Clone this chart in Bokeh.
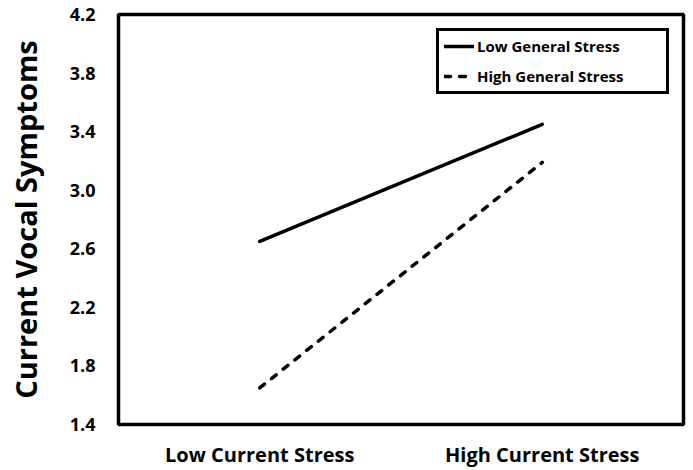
from bokeh.plotting import figure
from bokeh.models import FactorRange, FixedTicker, Legend, LegendItem, NumeralTickFormatter, Range1d
from bokeh.embed import file_html
from bokeh.resources import INLINE

categories = ["Low Current Stress", "High Current Stress"]
low_general = [2.65, 3.45]
high_general = [1.65, 3.19]
y_ticks = [1.4, 1.8, 2.2, 2.6, 3.0, 3.4, 3.8, 4.2]

FONT = "Open Sans"

p = figure(x_range=FactorRange(*categories, range_padding=0), y_range=Range1d(1.4, 4.2),
           width=693, height=470, output_backend="svg", toolbar_location=None,
           min_border_left=118, min_border_right=10, min_border_top=14, min_border_bottom=45)

r1 = p.line(categories, low_general, line_color="black", line_width=3.5, line_cap="round")
r2 = p.line(categories, high_general, line_color="black", line_width=3.5, line_cap="round",
            line_dash="6 9")

p.grid.visible = False
p.outline_line_color = "black"
p.outline_line_width = 3.5
p.outline_line_alpha = 1.0

p.yaxis.ticker = FixedTicker(ticks=y_ticks)
p.yaxis.formatter = NumeralTickFormatter(format="0.0")
for ax in (p.xaxis[0], p.yaxis[0]):
    ax.axis_line_color = None
    ax.major_tick_line_color = None
    ax.minor_tick_line_color = None
    ax.major_tick_out = 0
    ax.minor_tick_out = 0
    ax.major_label_text_font = FONT
    ax.major_label_text_font_style = "bold"
    ax.major_label_text_color = "black"
p.yaxis.major_label_text_font_size = "18px"
p.yaxis.major_label_standoff = 23
p.xaxis.major_label_text_font_size = "20px"
p.xaxis.major_label_standoff = 16
p.yaxis.axis_label = "Current Vocal Symptoms"
p.yaxis.axis_label_text_font = FONT
p.yaxis.axis_label_text_font_style = "bold"
p.yaxis.axis_label_text_font_size = "29px"
p.yaxis.axis_label_text_color = "black"
p.yaxis.axis_label_standoff = 22

legend = Legend(items=[LegendItem(label="Low General Stress", renderers=[r1]),
                       LegendItem(label="High General Stress", renderers=[r2])],
                location="top_right")
legend.border_line_color = "black"
legend.border_line_alpha = 1.0
legend.border_line_width = 3
legend.padding = 5
legend.spacing = 10
legend.margin = 14
legend.glyph_width = 30
legend.glyph_height = 16
legend.label_height = 16
legend.label_width = 184
legend.label_standoff = 3
legend.label_text_font = FONT
legend.label_text_font_style = "bold"
legend.label_text_font_size = "15px"
legend.label_text_color = "black"
p.add_layout(legend, "center")

open("out.html", "w").write(file_html(p, INLINE))
